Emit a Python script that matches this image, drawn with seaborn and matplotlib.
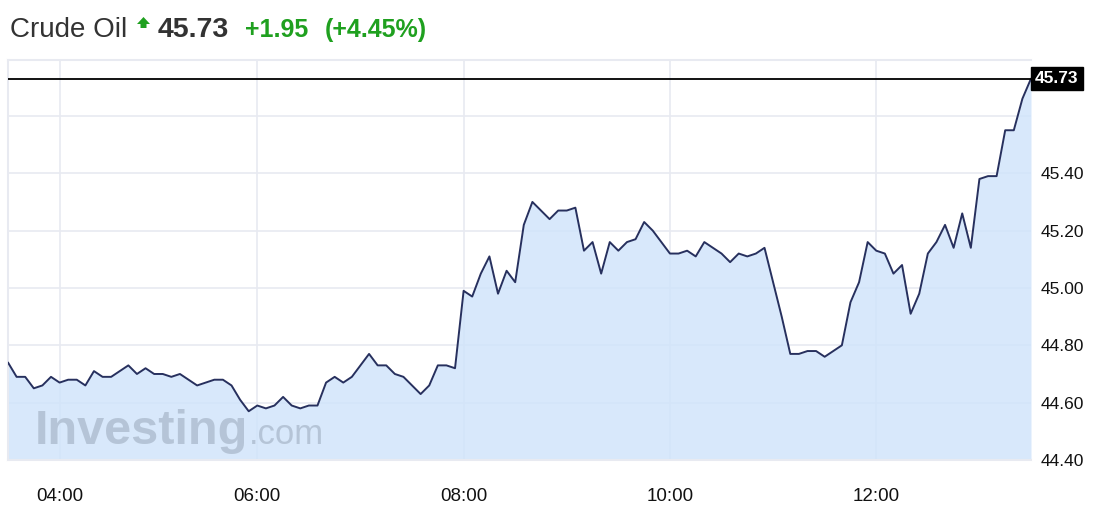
import pandas as pd
import seaborn as sns
import matplotlib.pyplot as plt
from matplotlib.patches import Polygon

# 5-minute prices, 03:30 -> 13:30 (one bar missing before 06:00)
price = [
    44.74, 44.69, 44.69, 44.65, 44.66, 44.69, 44.67, 44.68, 44.68, 44.66,
    44.71, 44.69, 44.69, 44.71, 44.73, 44.70, 44.72, 44.70, 44.70, 44.69,
    44.70, 44.68, 44.66, 44.67, 44.68, 44.68, 44.66, 44.61, 44.57, 44.59,
    44.58, 44.59, 44.62, 44.59, 44.58, 44.59, 44.59, 44.67, 44.69, 44.67,
    44.69, 44.73, 44.77, 44.73, 44.73, 44.70, 44.69, 44.66, 44.63, 44.66,
    44.73, 44.73, 44.72, 44.99, 44.97, 45.05, 45.11, 44.98, 45.06, 45.02,
    45.22, 45.30, 45.27, 45.24, 45.27, 45.27, 45.28, 45.13, 45.16, 45.05,
    45.16, 45.13, 45.16, 45.17, 45.23, 45.20, 45.16, 45.12, 45.12,
    45.13, 45.11, 45.16, 45.14, 45.12, 45.09, 45.12, 45.11, 45.12, 45.14,
    45.02, 44.90, 44.77, 44.77, 44.78, 44.78, 44.76, 44.78, 44.80, 44.95,
    45.02, 45.16, 45.13, 45.12, 45.05, 45.08, 44.91, 44.98, 45.12, 45.16,
    45.22, 45.14, 45.26, 45.14, 45.38, 45.39, 45.39, 45.55, 45.55, 45.66,
    45.73,
]
times = pd.date_range("2016-01-01 03:30", "2016-01-01 13:30", freq="5min")
times = times.drop(pd.Timestamp("2016-01-01 05:00"))
tick_hours = ["04:00", "06:00", "08:00", "10:00", "12:00"]
y_ticks = [44.40, 44.60, 44.80, 45.00, 45.20, 45.40, 45.60]

last = price[-1]
change = 1.95
change_pct = 4.45

df = pd.DataFrame({"time": times.strftime("%H:%M"), "price": price})
df["pos"] = range(len(df))

sns.set_theme(style="white")
plt.rcParams["font.family"] = ["Liberation Sans", "DejaVu Sans"]

W, H = 1110, 516
fig = plt.figure(figsize=(W / 100, H / 100), dpi=100)
ax = fig.add_axes([8 / W, 1 - 460 / H, 1023 / W, 400 / H])

grid_c = "#e8eaf1"
ax.fill_between(df["pos"], df["price"], 44.0, color="#cfe3fb", alpha=0.8, lw=0, zorder=2)
sns.lineplot(data=df, x="pos", y="price", color="#27305e", lw=1.4, ax=ax, zorder=4)
ax.axhline(last, color="black", lw=1.3, zorder=5)

ax.set_xlim(0, len(df) - 1)
ax.set_ylim(44.40, 45.795)

xt = df.loc[df["time"].isin(tick_hours), "pos"]
ax.set_xticks(xt)
ax.set_xticklabels(df.loc[xt.index, "time"], fontsize=13.5, color="#111111")
ax.set_yticks(y_ticks)
ax.set_yticklabels([f"{v:.2f}" if v < 45.5 else "" for v in y_ticks],
                   fontsize=12.5, color="#111111")
ax.yaxis.tick_right()
ax.tick_params(axis="x", length=0, pad=20)
ax.tick_params(axis="y", length=0, pad=7)
ax.grid(True, color=grid_c, lw=1.2, zorder=1)
ax.set_xlabel("")
ax.set_ylabel("")
for side in ["left", "bottom", "top"]:
    ax.spines[side].set_color(grid_c)
    ax.spines[side].set_linewidth(1.5)
ax.spines["right"].set_visible(False)

# last price tag on the right axis
ax.annotate(f"{last:.2f}", xy=(1.0, last), xycoords=ax.get_yaxis_transform(),
            xytext=(3, 0), textcoords="offset points",
            ha="left", va="center", fontsize=12.5, fontweight="bold", color="white",
            bbox=dict(boxstyle="square,pad=0.25", fc="black", ec="black"), zorder=6,
            annotation_clip=False)

# watermark
wm = ax.text(0.026, 0.04, "Investing", transform=ax.transAxes, fontsize=35,
             fontweight="bold", color="#b2c1d3", alpha=0.9, zorder=3)
fig.canvas.draw()
bb = wm.get_window_extent().transformed(ax.transAxes.inverted())
ax.text(bb.x1 + 0.001, 0.04, ".com", transform=ax.transAxes, fontsize=25,
        color="#b2c1d3", alpha=0.9, zorder=3)

# header
base = 1 - 37 / H
fig.text(10 / W, base, "Crude Oil", fontsize=20, color="#333333", va="baseline")
arrow = [(137, 24), (143.5, 17), (150, 24), (146.5, 24), (146.5, 28), (140.5, 28), (140.5, 24)]
fig.patches.append(Polygon([(x / W, 1 - y / H) for x, y in arrow], closed=True,
                           transform=fig.transFigure, fc="#1fa01f", ec="none"))
fig.text(158 / W, base, f"{last:.2f}", fontsize=20.5, fontweight="bold",
         color="#333333", va="baseline")
fig.text(245 / W, base, f"+{change:.2f}", fontsize=18, fontweight="bold",
         color="#1fa01f", va="baseline")
fig.text(325 / W, base, f"(+{change_pct:.2f}%)", fontsize=18, fontweight="bold",
         color="#1fa01f", va="baseline")

plt.savefig("out.png", dpi=100)
